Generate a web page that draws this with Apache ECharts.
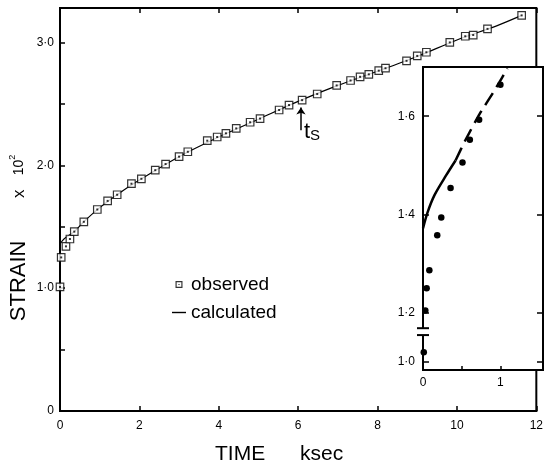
<!DOCTYPE html>
<html>
<head>
<meta charset="utf-8">
<script src="https://cdn.jsdelivr.net/npm/echarts@6/dist/echarts.min.js"></script>
<style>
html, body { margin: 0; padding: 0; background: #fff; }
#chart { width: 546px; height: 468px; }
</style>
</head>
<body>
<div id="chart"></div>
<script>
// main plot: strain (x10^2) against time (ksec)
const obsTime = [0, 0.03, 0.15, 0.25, 0.36, 0.60, 0.94, 1.20, 1.44, 1.80, 2.05, 2.40, 2.66, 3.00, 3.22,
  3.71, 3.96, 4.18, 4.44, 4.79, 5.04, 5.52, 5.77, 6.10, 6.48, 6.97, 7.32, 7.56, 7.78, 8.03, 8.20,
  8.73, 9.00, 9.23, 9.82, 10.21, 10.41, 10.77, 11.63]
const obsStrain = [1.01, 1.25, 1.34, 1.40, 1.46, 1.54, 1.64, 1.71, 1.76, 1.85, 1.89, 1.96, 2.01, 2.07, 2.11,
  2.20, 2.23, 2.26, 2.30, 2.35, 2.38, 2.45, 2.49, 2.53, 2.58, 2.65, 2.69, 2.72, 2.74, 2.77, 2.79,
  2.85, 2.89, 2.92, 3.00, 3.05, 3.06, 3.11, 3.22]
const calcTime = [0, 0.1, 0.36, 0.6, 1.0, 1.5, 2.0, 3.0, 4.0, 5.0, 6.0, 7.0, 8.0, 9.0, 10.0, 11.0, 11.63]
const calcStrain = [1.36, 1.40, 1.46, 1.54, 1.655, 1.775, 1.88, 2.07, 2.23, 2.375, 2.52, 2.65, 2.765, 2.885, 3.02, 3.135, 3.22]

// inset: first 1.5 ksec
const insetDotTime = [0.01, 0.03, 0.047, 0.082, 0.184, 0.236, 0.356, 0.51, 0.605, 0.725, 1.0]
const insetDotStrain = [1.02, 1.205, 1.25, 1.287, 1.358, 1.394, 1.454, 1.506, 1.552, 1.593, 1.664]
const insetSolidTime = [0, 0.06, 0.15, 0.3, 0.42]
const insetSolidStrain = [1.372, 1.405, 1.44, 1.48, 1.51]
const insetDashTime = [0.42, 0.55, 0.73, 0.93, 1.09]
const insetDashStrain = [1.51, 1.552, 1.604, 1.654, 1.697]

// tick labels
const mainYLabels = [0, 1, 2, 3]
const insetYLabels = [1.0, 1.2, 1.4, 1.6]
const insetXLabels = [0, 1]

// t_s arrow
const tsTime = 6.07
const tsFrom = 2.285
const tsTo = 2.47

const FONT = 'Liberation Sans'
const BLACK = '#000'

// inset y axis is broken between 1.0 and 1.2
const toInset = v => v < 1.1 ? v + 0.1 : v
const dotFmt = v => v === 0 ? '0' : v.toFixed(1).replace('.', '\u00b7')
const zip = (a, b) => a.map((x, i) => [x, b[i]])

const tickStyle = {color: BLACK, width: 1.5}
const lineStyle = {color: BLACK, width: 2}

const chart = echarts.init(document.getElementById('chart'))

const option = {
    animation: false,
    textStyle: {fontFamily: FONT, color: BLACK},
    grid: [
        {left: 60, top: 8, right: 3, bottom: 57, show: true, borderColor: BLACK, borderWidth: 2},
        {left: 423, top: 67, right: 3, bottom: 98, show: true, borderColor: BLACK, borderWidth: 2, backgroundColor: '#fff'}
    ],
    legend: {
        orient: 'vertical',
        left: 167,
        top: 270,
        itemWidth: 14,
        itemHeight: 7,
        itemGap: 9,
        selectedMode: false,
        textStyle: {fontSize: 19, fontFamily: FONT, color: BLACK},
        data: [
            {name: 'observed', icon: 'path://M0,0H12V12H0Z M2,2V10H10V2Z M5,5H7V7H5Z', itemStyle: {color: BLACK, borderWidth: 0}},
            {name: 'calculated', icon: 'path://M0,0H14V1.4H0Z', itemStyle: {color: BLACK, borderWidth: 0}}
        ]
    },
    xAxis: [
        {
            gridIndex: 0, type: 'value', min: 0, max: 12, interval: 2,
            axisLine: {show: true, lineStyle: lineStyle},
            axisTick: {inside: true, length: 5, lineStyle: tickStyle},
            axisLabel: {margin: 9, fontSize: 12, color: BLACK},
            splitLine: {show: false}
        },
        {
            gridIndex: 0, type: 'value', position: 'top', min: 0, max: 12, interval: 2,
            axisLine: {show: false},
            axisTick: {inside: true, length: 5, lineStyle: tickStyle},
            axisLabel: {show: false},
            splitLine: {show: false}
        },
        {
            gridIndex: 1, type: 'value', min: 0, max: 1.55,
            axisLine: {show: true, lineStyle: lineStyle},
            axisTick: {inside: true, length: 4, customValues: [0.5, 1], lineStyle: tickStyle},
            axisLabel: {margin: 7, fontSize: 12, color: BLACK, customValues: insetXLabels},
            splitLine: {show: false}
        }
    ],
    yAxis: [
        {
            gridIndex: 0, type: 'value', min: 0, max: 3.28, interval: 0.5,
            axisLine: {show: true, lineStyle: lineStyle},
            axisTick: {inside: true, length: 5, lineStyle: tickStyle},
            axisLabel: {
                margin: 6, fontSize: 12, color: BLACK,
                formatter: v => mainYLabels.indexOf(v) >= 0 ? dotFmt(v) : ''
            },
            splitLine: {show: false}
        },
        {
            gridIndex: 1, type: 'value', min: 1.084, max: 1.70,
            axisLine: {show: true, lineStyle: lineStyle},
            axisTick: {inside: true, length: 6, customValues: insetYLabels.map(toInset), lineStyle: tickStyle},
            axisLabel: {
                margin: 8, fontSize: 12, color: BLACK,
                customValues: insetYLabels.map(toInset),
                formatter: v => v < 1.15 ? '1\u00b70' : dotFmt(v)
            },
            splitLine: {show: false}
        },
        {
            gridIndex: 1, type: 'value', position: 'right', min: 1.084, max: 1.70,
            axisLine: {show: true, lineStyle: lineStyle},
            axisTick: {inside: true, length: 6, customValues: insetYLabels.map(toInset), lineStyle: tickStyle},
            axisLabel: {show: false},
            splitLine: {show: false}
        }
    ],
    series: [
        {
            name: 'calculated', type: 'line', xAxisIndex: 0, yAxisIndex: 0,
            data: zip(calcTime, calcStrain),
            smooth: 0.3, symbol: 'none', showSymbol: false,
            lineStyle: {color: BLACK, width: 1.2},
            itemStyle: {color: BLACK},
            z: 2
        },
        {
            name: 'observed', type: 'scatter', xAxisIndex: 0, yAxisIndex: 0,
            data: zip(obsTime, obsStrain),
            symbol: 'rect', symbolSize: 7.5, clip: false,
            itemStyle: {color: '#fff', borderColor: BLACK, borderWidth: 1.2},
            z: 3,
            markLine: {
                silent: true,
                animation: false,
                symbol: ['none', 'arrow'],
                symbolSize: 7,
                label: {show: false},
                lineStyle: {color: BLACK, width: 1.5, type: 'solid'},
                data: [[{coord: [tsTime, tsFrom]}, {coord: [tsTime, tsTo]}]]
            }
        },
        {
            name: 'obsDot', type: 'scatter', xAxisIndex: 0, yAxisIndex: 0,
            data: zip(obsTime, obsStrain),
            symbol: 'rect', symbolSize: 2, clip: false, silent: true,
            itemStyle: {color: BLACK},
            z: 4
        },
        {
            name: 'insetObserved', type: 'scatter', xAxisIndex: 2, yAxisIndex: 1,
            data: zip(insetDotTime, insetDotStrain.map(toInset)),
            symbol: 'circle', symbolSize: 6.5, clip: false,
            itemStyle: {color: BLACK, opacity: 1},
            z: 4
        },
        {
            name: 'insetCalculated', type: 'line', xAxisIndex: 2, yAxisIndex: 1,
            data: zip(insetSolidTime, insetSolidStrain),
            smooth: 0.3, symbol: 'none',
            lineStyle: {color: BLACK, width: 2.5}
        },
        {
            name: 'insetExtrapolated', type: 'line', xAxisIndex: 2, yAxisIndex: 1,
            data: zip(insetDashTime, insetDashStrain),
            smooth: 0.2, symbol: 'none',
            lineStyle: {color: BLACK, width: 2.5, type: [14, 7]}
        }
    ],
    graphic: [
        {id: 'xname1', type: 'text', left: 215, top: 444, style: {text: 'TIME', font: '21px "Liberation Sans"', fill: BLACK}},
        {id: 'xname2', type: 'text', left: 300, top: 444, style: {text: 'ksec', font: '21px "Liberation Sans"', fill: BLACK}},
        {
            id: 'yname', type: 'text', x: 19, y: 238, rotation: Math.PI / 2,
            style: {
                text: '{a|STRAIN}{b|         x   }{c|10}{d|2}',
                align: 'center', verticalAlign: 'middle', fill: BLACK,
                rich: {
                    a: {fontSize: 22, fontFamily: FONT},
                    b: {fontSize: 17, fontFamily: FONT},
                    c: {fontSize: 14, fontFamily: FONT},
                    d: {fontSize: 9, fontFamily: FONT, verticalAlign: 'top'}
                }
            }
        }
    ]
}

chart.setOption(option)

// t_s label and the break marks on the inset axis, placed from data coords
const ts = chart.convertToPixel({xAxisIndex: 0, yAxisIndex: 0}, [tsTime, tsFrom])
const brkHi = chart.convertToPixel({xAxisIndex: 2, yAxisIndex: 1}, [0, 1.169])
const brkLo = chart.convertToPixel({xAxisIndex: 2, yAxisIndex: 1}, [0, 1.155])
chart.setOption({
    graphic: [
        {
            id: 'ts', type: 'text', x: ts[0] + 3, y: ts[1] - 9, z: 100,
            style: {
                text: '{t|t}{s|S}', fill: BLACK, verticalAlign: 'top',
                rich: {t: {fontSize: 22, fontFamily: FONT}, s: {fontSize: 15, fontFamily: FONT, verticalAlign: 'bottom'}}
            }
        },
        {
            id: 'gap', type: 'rect', z: 100,
            shape: {x: brkHi[0] - 3, y: brkHi[1], width: 6, height: brkLo[1] - brkHi[1]},
            style: {fill: '#fff'}
        },
        {id: 'cap1', type: 'line', z: 101, shape: {x1: brkHi[0] - 6, y1: brkHi[1], x2: brkHi[0] + 6, y2: brkHi[1]}, style: {stroke: BLACK, lineWidth: 2}},
        {id: 'cap2', type: 'line', z: 101, shape: {x1: brkLo[0] - 6, y1: brkLo[1], x2: brkLo[0] + 6, y2: brkLo[1]}, style: {stroke: BLACK, lineWidth: 2}}
    ]
})

window.addEventListener('resize', () => chart.resize())
</script>
</body>
</html>
